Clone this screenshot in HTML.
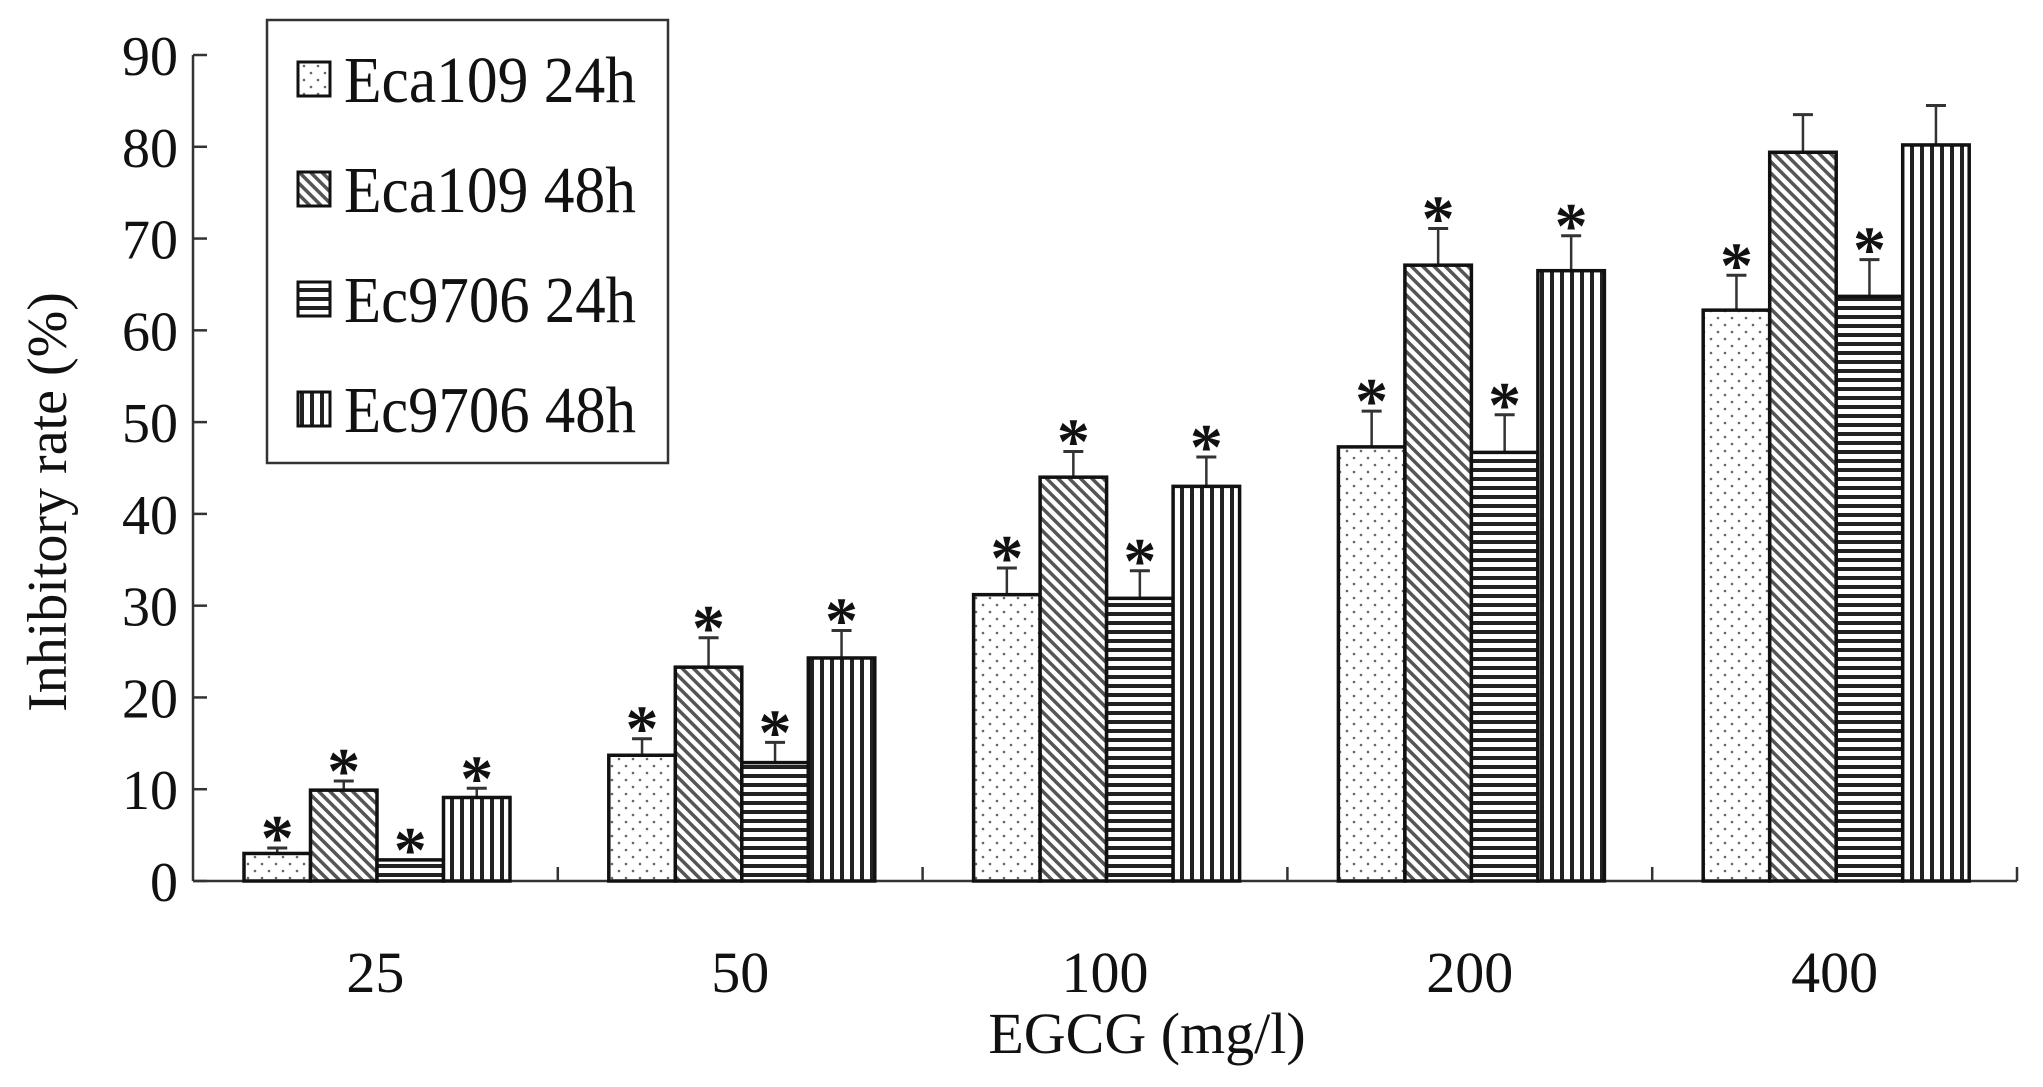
<!DOCTYPE html>
<html><head><meta charset="utf-8"><style>
html,body{margin:0;padding:0;background:#fff;}
svg{display:block;font-family:"Liberation Serif",serif;}
</style></head><body>
<svg id="chart" width="2043" height="1087" viewBox="0 0 2043 1087" xmlns="http://www.w3.org/2000/svg">
<defs>
<pattern id="p-dots" patternUnits="userSpaceOnUse" width="14" height="14"><rect width="14" height="14" fill="#fff"/><circle cx="3" cy="3" r="1.3" fill="#666"/><circle cx="10" cy="10" r="1.3" fill="#666"/></pattern>
<pattern id="p-diag" patternUnits="userSpaceOnUse" width="8" height="8" patternTransform="rotate(-45)"><rect width="8" height="8" fill="#fff"/><rect x="0" y="0" width="3.5" height="8" fill="#555"/></pattern>
<pattern id="p-horiz" patternUnits="userSpaceOnUse" width="10" height="9"><rect width="10" height="9" fill="#fff"/><rect x="0" y="0" width="10" height="4" fill="#222"/></pattern>
<pattern id="p-vert" patternUnits="userSpaceOnUse" width="10" height="10"><rect width="10" height="10" fill="#fff"/><rect x="0" y="0" width="4" height="10" fill="#222"/></pattern>
</defs>
<g id="axes"></g>
<g id="bars"></g>
<g id="legend">
<rect x="267" y="20" width="401" height="443" fill="#fff" stroke="#333" stroke-width="2.5"/>
</g>
<text x="1147" y="1053" font-size="58" text-anchor="middle" fill="#111">EGCG (mg/l)</text>
<text transform="translate(66,502) rotate(-90)" font-size="56" text-anchor="middle" fill="#111">Inhibitory rate (%)</text>
</svg>
<script>
const categories = ["25","50","100","200","400"];
const seriesNames = ["Eca109 24h","Eca109 48h","Ec9706 24h","Ec9706 48h"];
const eca109_24 = [3.0, 13.7, 31.2, 47.3, 62.2];
const eca109_48 = [9.9, 23.3, 44.0, 67.1, 79.4];
const ec9706_24 = [2.3, 12.9, 30.8, 46.7, 63.7];
const ec9706_48 = [9.1, 24.3, 43.0, 66.5, 80.2];
const err_eca109_24 = [0.6, 1.8, 2.9, 3.9, 3.8];
const err_eca109_48 = [1.0, 3.2, 2.8, 4.0, 4.1];
const err_ec9706_24 = [0.0, 2.2, 3.0, 4.1, 4.0];
const err_ec9706_48 = [1.0, 3.0, 3.2, 3.8, 4.3];
const sig_eca109_24 = [1,1,1,1,1];
const sig_eca109_48 = [1,1,1,1,0];
const sig_ec9706_24 = [1,1,1,1,1];
const sig_ec9706_48 = [1,1,1,1,0];
const yTicks = [0,10,20,30,40,50,60,70,80,90];

const NS="http://www.w3.org/2000/svg";
const X0=193, X1=2017, Y0=881, YTOP=55, YMAX=90;
const catW=(X1-X0)/categories.length;
const barW=66.5, groupOff=51;
const yS=v=>Y0-(v/YMAX)*(Y0-YTOP);
const xBar=(c,s)=>X0+c*catW+groupOff+s*barW;
function mk(tag,attrs,parent){const e=document.createElementNS(NS,tag);for(const k in attrs)e.setAttribute(k,attrs[k]);parent.appendChild(e);return e;}
const axes=document.getElementById('axes');
const bars=document.getElementById('bars');
const legend=document.getElementById('legend');

let l=mk('line',{x1:X0,y1:YTOP,x2:X0,y2:Y0,stroke:'#333','stroke-width':2.5},axes);


l=mk('line',{x1:X0,y1:Y0,x2:X1,y2:Y0,stroke:'#333','stroke-width':2.5},axes);


yTicks.forEach(v=>{
  const y=yS(v);
  const t=mk('line',{x1:X0,y1:y,x2:X0+14,y2:y,stroke:'#333','stroke-width':2.5},axes);
  
  
  const tx=mk('text',{x:178,y:y+20,'font-size':56,'text-anchor':'end',fill:'#111'},axes);
  tx.textContent=v;
  
  
});
categories.forEach((c,i)=>{
  const xe=X0+(i+1)*catW;
  const t=mk('line',{x1:xe,y1:Y0,x2:xe,y2:Y0-14,stroke:'#333','stroke-width':2.5},axes);
  
  
  const tx=mk('text',{x:X0+(i+0.5)*catW,y:992,'font-size':58,'text-anchor':'middle',fill:'#111'},axes);
  tx.textContent=c;
  
  
});
const series=[eca109_24,eca109_48,ec9706_24,ec9706_48];
const errs=[err_eca109_24,err_eca109_48,err_ec9706_24,err_ec9706_48];
const sigs=[sig_eca109_24,sig_eca109_48,sig_ec9706_24,sig_ec9706_48];
const fills=['url(#p-dots)','url(#p-diag)','url(#p-horiz)','url(#p-vert)'];
series.forEach((vals,s)=>{
  vals.forEach((v,c)=>{
    const x=xBar(c,s), y=yS(v);
    const et=yS(v+errs[s][c]);
    const cx=x+barW/2;
    if(errs[s][c]>0){
      const e1=mk('line',{x1:cx,y1:y,x2:cx,y2:et,stroke:'#333','stroke-width':2.5},bars);
      
      
      const e2=mk('line',{x1:cx-10,y1:et,x2:cx+10,y2:et,stroke:'#333','stroke-width':3},bars);
      
      
    }
    const r=mk('rect',{x:x,y:y,width:barW,height:Y0-y,fill:fills[s],stroke:'#111','stroke-width':3.5},bars);
    
    
    if(sigs[s][c]){
      const a=mk('text',{x:cx,y:et+12,'font-size':66,'font-weight':'bold','text-anchor':'middle',fill:'#111'},bars);
      a.textContent='*';
      
      
    }
  });
});
const legY=[79,189,299,409];
seriesNames.forEach((n,i)=>{
  const sw=mk('rect',{x:298,y:legY[i]-17,width:32,height:34,fill:fills[i],stroke:'#111','stroke-width':3},legend);
  
  
  const t=mk('text',{x:344,y:legY[i]+23,'font-size':66,fill:'#111',textLength:292,lengthAdjust:'spacingAndGlyphs'},legend);
  t.textContent=n;
  
  
});
</script>
</body></html>
